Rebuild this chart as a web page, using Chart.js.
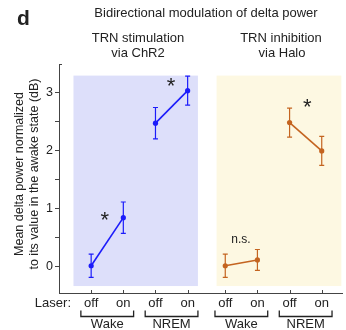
<!DOCTYPE html>
<html>
<head>
<meta charset="utf-8">
<script src="https://cdn.jsdelivr.net/npm/chart.js@4"></script>
<style>
  html, body { margin: 0; padding: 0; background: #fff; }
  #wrap { width: 346px; height: 330px; }
</style>
</head>
<body>
<div id="wrap"><canvas id="chart" width="346" height="330"></canvas></div>
<script>
// x positions of the eight conditions and their labels
const xPositions = [1, 2, 3, 4, 5.17, 6.17, 7.17, 8.17];
const laserLabels = ['off', 'on', 'off', 'on', 'off', 'on', 'off', 'on'];
const stateLabels = ['Wake', 'NREM', 'Wake', 'NREM'];
const yTicks = [0, 0.5, 1, 1.5, 2, 2.5, 3];

// TRN stimulation via ChR2 (blue), TRN inhibition via Halo (orange)
const chr2Mean = [0.02, 0.85, 2.48, 3.04];
const chr2Err = [0.2, 0.27, 0.27, 0.25];
const haloMean = [0.02, 0.12, 2.49, 2.0];
const haloErr = [0.2, 0.18, 0.25, 0.25];

// significance marks: [x, y, text]
const marks = [[1.42, 0.88, '*'], [3.48, 3.19, '*'], [7.72, 2.82, '*'], [5.66, 0.47, 'n.s.']];

const FONT = '"Liberation Sans", Arial, sans-serif';
const BLUE = 'rgb(28,28,250)';
const ORANGE = 'rgb(196,100,32)';

function pairSet(mean, err, offset, color) {
  return {
    data: [0, 1].map(i => ({ x: xPositions[offset + i], y: mean[(offset % 4) + i], e: err[(offset % 4) + i] })),
    showLine: true,
    borderColor: color,
    backgroundColor: color,
    borderWidth: 1.6,
    pointRadius: 2.6,
    pointBorderWidth: 0
  };
}

const datasets = [
  pairSet(chr2Mean, chr2Err, 0, BLUE),
  pairSet(chr2Mean, chr2Err, 2, BLUE),
  pairSet(haloMean, haloErr, 4, ORANGE),
  pairSet(haloMean, haloErr, 6, ORANGE)
];

const decor = {
  id: 'decor',
  beforeDatasetsDraw(chart) {
    const { ctx, scales: { x, y } } = chart;
    ctx.save();
    ctx.fillStyle = 'rgb(221,223,250)';
    ctx.fillRect(x.getPixelForValue(0.45), y.getPixelForValue(3.3), x.getPixelForValue(4.32) - x.getPixelForValue(0.45), y.getPixelForValue(-0.33) - y.getPixelForValue(3.3));
    ctx.fillStyle = 'rgb(253,248,226)';
    ctx.fillRect(x.getPixelForValue(4.9), y.getPixelForValue(3.3), x.getPixelForValue(8.78) - x.getPixelForValue(4.9), y.getPixelForValue(-0.33) - y.getPixelForValue(3.3));
    ctx.restore();
  },
  afterDatasetsDraw(chart) {
    const { ctx, scales: { x, y }, chartArea } = chart;
    ctx.save();
    // error bars
    chart.data.datasets.forEach(ds => {
      ctx.strokeStyle = ds.borderColor;
      ctx.lineWidth = 1.2;
      ds.data.forEach(p => {
        const px = x.getPixelForValue(p.x);
        const top = y.getPixelForValue(p.y + p.e);
        const bot = y.getPixelForValue(p.y - p.e);
        ctx.beginPath();
        ctx.moveTo(px, top); ctx.lineTo(px, bot);
        ctx.moveTo(px - 2.5, top); ctx.lineTo(px + 2.5, top);
        ctx.moveTo(px - 2.5, bot); ctx.lineTo(px + 2.5, bot);
        ctx.stroke();
      });
    });
    // inward ticks on x axis and top of y axis
    ctx.strokeStyle = '#444';
    ctx.lineWidth = 1;
    ctx.beginPath();
    xPositions.forEach(v => {
      const px = Math.round(x.getPixelForValue(v)) + 0.5;
      ctx.moveTo(px, chartArea.bottom); ctx.lineTo(px, chartArea.bottom - 3);
    });
    ctx.moveTo(chartArea.left, chartArea.top + 0.5); ctx.lineTo(chartArea.left + 3, chartArea.top + 0.5);
    ctx.stroke();
    // significance marks
    ctx.fillStyle = '#222';
    ctx.textAlign = 'center';
    ctx.textBaseline = 'middle';
    marks.forEach(([mx, my, t]) => {
      ctx.font = t === '*' ? '22px ' + FONT : '12px ' + FONT;
      ctx.fillText(t, x.getPixelForValue(mx), y.getPixelForValue(my) + (t === '*' ? 5 : 0));
    });
    ctx.restore();
  },
  afterDraw(chart) {
    const { ctx, scales: { x } } = chart;
    ctx.save();
    ctx.fillStyle = '#222';
    ctx.textBaseline = 'middle';
    ctx.textAlign = 'left';
    ctx.font = 'bold 21px ' + FONT;
    ctx.fillText('d', 17, 19);
    ctx.textAlign = 'center';
    ctx.font = '13px ' + FONT;
    ctx.fillText('Bidirectional modulation of delta power', 206, 13);
    ctx.fillText('TRN stimulation', 138, 38);
    ctx.fillText('via ChR2', 138, 53);
    ctx.fillText('TRN inhibition', 281, 38);
    ctx.fillText('via Halo', 282, 53);
    // y axis title
    ctx.save();
    ctx.font = '12.5px ' + FONT;
    ctx.translate(20, 174);
    ctx.rotate(-Math.PI / 2);
    ctx.fillText('Mean delta power normalized', 0, 0);
    ctx.fillText('to its value in the awake state (dB)', 0, 14.5);
    ctx.restore();
    // laser label
    ctx.textAlign = 'right';
    ctx.font = '13px ' + FONT;
    ctx.fillText('Laser:', 71, 303);
    // brackets and state labels
    ctx.textAlign = 'center';
    ctx.strokeStyle = '#222';
    ctx.lineWidth = 1.3;
    stateLabels.forEach((lab, i) => {
      const x0 = x.getPixelForValue(xPositions[2 * i] - 0.32);
      const x1 = x.getPixelForValue(xPositions[2 * i + 1] + 0.32);
      ctx.beginPath();
      ctx.moveTo(x0, 310.5); ctx.lineTo(x0, 316.5); ctx.lineTo(x1, 316.5); ctx.lineTo(x1, 310.5);
      ctx.stroke();
      ctx.fillText(lab, (x0 + x1) / 2, 324);
    });
    ctx.restore();
  }
};

new Chart(document.getElementById('chart'), {
  type: 'scatter',
  data: { datasets: datasets },
  plugins: [decor],
  options: {
    responsive: false,
    animation: false,
    layout: { padding: { top: 64, right: 2, left: 0, bottom: 0 } },
    plugins: { legend: { display: false }, tooltip: { enabled: false } },
    scales: {
      x: {
        type: 'linear',
        min: 0,
        max: 8.8,
        afterFit: s => { s.height = 37; },
        afterBuildTicks: s => { s.ticks = xPositions.map(v => ({ value: v })); },
        grid: { display: false, drawTicks: false },
        border: { display: true, color: '#444', width: 1 },
        ticks: {
          autoSkip: false,
          maxRotation: 0,
          padding: 3,
          color: '#222',
          font: { family: FONT, size: 13 },
          callback: (v, i) => laserLabels[i]
        }
      },
      y: {
        min: -0.45,
        max: 3.5,
        afterFit: s => { s.width = 59; },
        afterBuildTicks: s => { s.ticks = yTicks.map(v => ({ value: v })); },
        grid: { drawOnChartArea: false, tickLength: 4, color: '#444' },
        border: { display: true, color: '#444', width: 1 },
        ticks: {
          padding: 2,
          color: '#222',
          font: { family: FONT, size: 12.5 },
          callback: v => (Number.isInteger(v) ? String(v) : '')
        }
      }
    }
  }
});
</script>
</body>
</html>
